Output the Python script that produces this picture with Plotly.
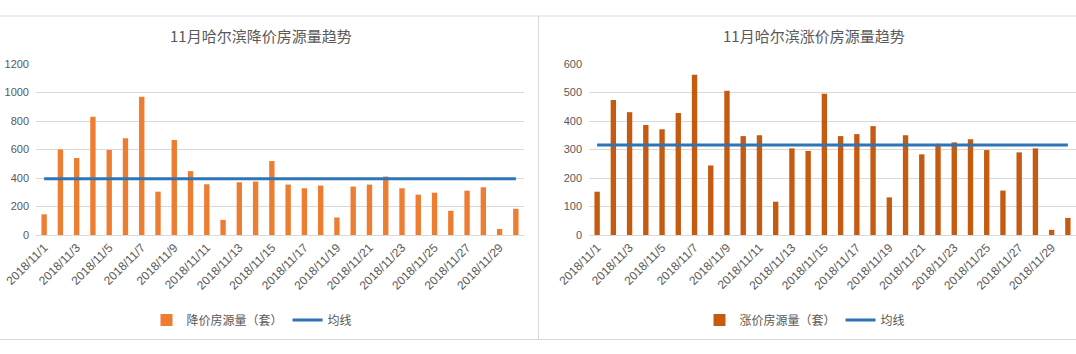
import plotly.graph_objects as go

dates = [f"2018/11/{d}" for d in range(1, 31)]
tick_labels = dates[::2]

down_counts = [145, 600, 540, 830, 597, 679, 971, 304, 667, 448,
               356, 106, 370, 375, 519, 354, 328, 347, 123, 340,
               354, 410, 328, 283, 297, 170, 311, 335, 42, 184]
up_counts = [152, 474, 431, 386, 371, 428, 562, 244, 506, 347,
             350, 117, 304, 295, 496, 347, 354, 382, 132, 350,
             283, 320, 325, 336, 298, 156, 290, 304, 18, 60]
down_avg = 395
up_avg = 316

title_down = "11月哈尔滨降价房源量趋势"
title_up = "11月哈尔滨涨价房源量趋势"
name_down = "降价房源量（套）"
name_up = "涨价房源量（套）"
name_avg = "均线"

W, H = 1076, 354
CJK = "Noto Sans CJK SC"
GRAY = "#595959"
GRID = "#D9D9D9"

def px(x):
    return x / W

def py(y):
    return 1 - y / H

fig = go.Figure()

fig.add_trace(go.Bar(x=dates, y=down_counts, name=name_down, marker_color="#ED7D31",
                     xaxis="x", yaxis="y", legend="legend"))
fig.add_trace(go.Scatter(x=dates, y=[down_avg] * len(dates), name=name_avg, mode="lines",
                         line=dict(color="#2E75B6", width=3), xaxis="x", yaxis="y", legend="legend"))
fig.add_trace(go.Bar(x=dates, y=up_counts, name=name_up, marker_color="#C55A11",
                     xaxis="x2", yaxis="y2", legend="legend2"))
fig.add_trace(go.Scatter(x=dates, y=[up_avg] * len(dates), name=name_avg, mode="lines",
                         line=dict(color="#2E75B6", width=3), xaxis="x2", yaxis="y2", legend="legend2"))

ydom = [py(235), py(64)]

xcommon = dict(type="category", tickvals=tick_labels, ticktext=tick_labels, tickangle=-45,
               tickfont=dict(family="Liberation Sans, " + CJK, size=12, color=GRAY),
               showgrid=False, showline=True, linecolor=GRID, linewidth=1, ticks="",
               range=[-0.5, 29.5], fixedrange=True, automargin=False)
ycommon = dict(showgrid=True, gridcolor=GRID, gridwidth=1, zeroline=False, showline=False,
               ticks="", tickfont=dict(family="Liberation Sans, " + CJK, size=11, color=GRAY),
               ticklabelstandoff=6, domain=ydom, automargin=False)

fig.update_layout(
    template="none",
    width=W, height=H,
    margin=dict(l=0, r=0, t=0, b=0, pad=0),
    paper_bgcolor="white", plot_bgcolor="white",
    bargap=0.67,
    xaxis=dict(domain=[px(36), px(524)], anchor="y", **xcommon),
    yaxis=dict(range=[0, 1200], dtick=200, anchor="x", **ycommon),
    xaxis2=dict(domain=[px(589), 1.0], anchor="y2", **xcommon),
    yaxis2=dict(range=[0, 600], dtick=100, anchor="x2", **ycommon),
    legend=dict(orientation="h", x=px(252), xanchor="center", y=py(320), yanchor="middle",
                font=dict(family=CJK, size=12, color=GRAY), bgcolor="rgba(0,0,0,0)",
                itemwidth=30, tracegroupgap=0),
    legend2=dict(orientation="h", x=px(805), xanchor="center", y=py(320), yanchor="middle",
                 font=dict(family=CJK, size=12, color=GRAY), bgcolor="rgba(0,0,0,0)",
                 itemwidth=30, tracegroupgap=0),
    annotations=[
        dict(text=title_down, x=px(261), y=py(36), xref="paper", yref="paper",
             xanchor="center", yanchor="middle", showarrow=False,
             font=dict(family=CJK, size=15, color=GRAY)),
        dict(text=title_up, x=px(814), y=py(36), xref="paper", yref="paper",
             xanchor="center", yanchor="middle", showarrow=False,
             font=dict(family=CJK, size=15, color=GRAY)),
    ],
    shapes=[
        dict(type="line", xref="paper", yref="paper", x0=0, x1=1, y0=py(16), y1=py(16),
             line=dict(color="#D9D9D9", width=1)),
        dict(type="line", xref="paper", yref="paper", x0=0, x1=1, y0=py(339.5), y1=py(339.5),
             line=dict(color="#D9D9D9", width=1)),
        dict(type="line", xref="paper", yref="paper", x0=px(538.5), x1=px(538.5),
             y0=py(16), y1=py(339.5), line=dict(color="#D9D9D9", width=1)),
    ],
    showlegend=True,
)

fig.write_html("out.html")
